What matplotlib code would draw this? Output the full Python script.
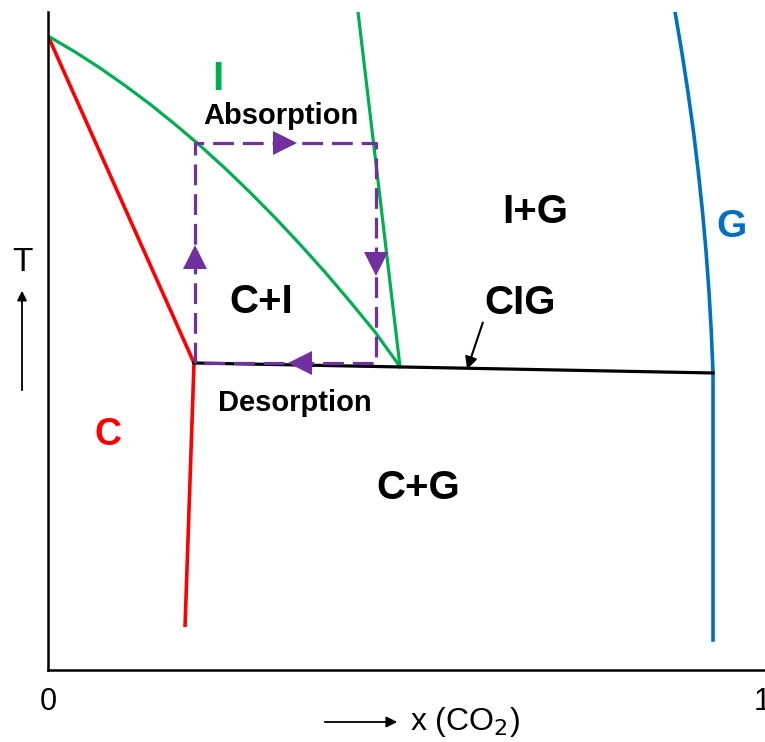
import matplotlib
matplotlib.use("Agg")
import matplotlib.pyplot as plt
from matplotlib.patches import FancyArrowPatch

# Phase boundaries (x = CO2 mole fraction, T = reduced temperature)
red_x = [0.0, 0.2045, 0.1919]
red_T = [0.9635, 0.4666, 0.0653]

green_curve_x = [0.0, 0.0378, 0.0728, 0.1078, 0.1429, 0.1779, 0.2129, 0.2479,
                 0.2829, 0.3179, 0.3529, 0.3880, 0.4230, 0.4580, 0.4930]
green_curve_T = [0.9635, 0.9394, 0.9149, 0.8883, 0.8599, 0.8293, 0.7970, 0.7625,
                 0.7260, 0.6875, 0.6470, 0.6046, 0.5600, 0.5137, 0.4610]

green_steep_x = [0.4342, 0.4930]
green_steep_T = [1.0, 0.4610]

blue_x = [0.8782, 0.8877, 0.8963, 0.9041, 0.9108, 0.9167, 0.9217, 0.9258,
          0.9290, 0.9314, 0.9314]
blue_T = [1.0, 0.9392, 0.8784, 0.8176, 0.7568, 0.6960, 0.6353, 0.5745,
          0.5137, 0.4514, 0.0456]

cig_x = [0.2045, 0.9314]
cig_T = [0.4666, 0.4514]

# Absorption / desorption cycle
cycle_x = [0.2059, 0.2059, 0.4594, 0.4594, 0.2059]
cycle_T = [0.4666, 0.8009, 0.8009, 0.4666, 0.4666]

PURPLE = "#7030A0"
GREEN = "#00B050"
RED = "#FF0000"
BLUE = "#0070C0"

plt.rcParams["font.family"] = ["Liberation Sans", "DejaVu Sans"]

fig = plt.figure(figsize=(7.65, 7.42), dpi=100)
ax = fig.add_axes([48 / 765, 72 / 742, 717 / 765, 658 / 742])
ax.set_xlim(0, 717 / 714)
ax.set_ylim(0, 1)

for s in ("top", "right"):
    ax.spines[s].set_visible(False)
for s in ("left", "bottom"):
    ax.spines[s].set_linewidth(1.8)

ax.set_xticks([0, 1])
ax.set_xticklabels(["0", "1"], fontsize=22)
ax.set_yticks([])
ax.tick_params(axis="x", length=0, pad=12)

ax.plot(red_x, red_T, color=RED, lw=2.6, solid_capstyle="butt")
ax.plot(green_curve_x, green_curve_T, color=GREEN, lw=2.3)
ax.plot(green_steep_x, green_steep_T, color=GREEN, lw=2.3)
ax.plot(blue_x, blue_T, color=BLUE, lw=2.6, solid_joinstyle="round")
ax.plot(cig_x, cig_T, color="black", lw=2.3)

ax.plot(cycle_x, cycle_T, color=PURPLE, lw=2.3, dashes=(6.5, 2.8))

# direction markers on the cycle
mk = dict(color=PURPLE, ms=17, mew=0)
ax.plot(0.332, cycle_T[1], marker=">", **mk)
ax.plot(cycle_x[2], 0.617, marker="v", **mk)
ax.plot(0.353, cycle_T[0], marker="<", **mk)
ax.plot(cycle_x[0], 0.628, marker="^", **mk)

bold = dict(fontweight="bold", ha="center", va="center")
ax.text(0.238, 0.898, "I", color=GREEN, fontsize=29, **bold)
ax.text(0.326, 0.842, "Absorption", fontsize=21, **bold)
ax.text(0.682, 0.696, "I+G", fontsize=29, **bold)
ax.text(0.957, 0.673, "G", color=BLUE, fontsize=28, **bold)
ax.text(0.298, 0.559, "C+I", fontsize=29, **bold)
ax.text(0.661, 0.558, "CIG", fontsize=29, **bold)
ax.text(0.346, 0.406, "Desorption", fontsize=21, **bold)
ax.text(0.084, 0.357, "C", color=RED, fontsize=27, **bold)
ax.text(0.518, 0.276, "C+G", fontsize=29, **bold)

ax.annotate("", xy=(0.587, 0.457), xytext=(0.609, 0.528),
            arrowprops=dict(arrowstyle="-|>", color="black", lw=1.5,
                            mutation_scale=18, shrinkA=0, shrinkB=0))

# axis captions with arrows
fig.text(22 / 765, 1 - 262 / 742, "T", fontsize=24, ha="center", va="center")
fig.add_artist(FancyArrowPatch(
    (22 / 765, 1 - 393 / 742), (22 / 765, 1 - 288 / 742),
    transform=fig.transFigure, arrowstyle="-|>", mutation_scale=14,
    color="black", lw=1.3))

fig.add_artist(FancyArrowPatch(
    (322 / 765, 1 - 722 / 742), (400 / 765, 1 - 722 / 742),
    transform=fig.transFigure, arrowstyle="-|>", mutation_scale=16,
    color="black", lw=1.3))
fig.text(410 / 765, 1 - 722 / 742, r"x (CO$_2$)", fontsize=23,
         ha="left", va="center")

fig.savefig("out.png", dpi=100)
